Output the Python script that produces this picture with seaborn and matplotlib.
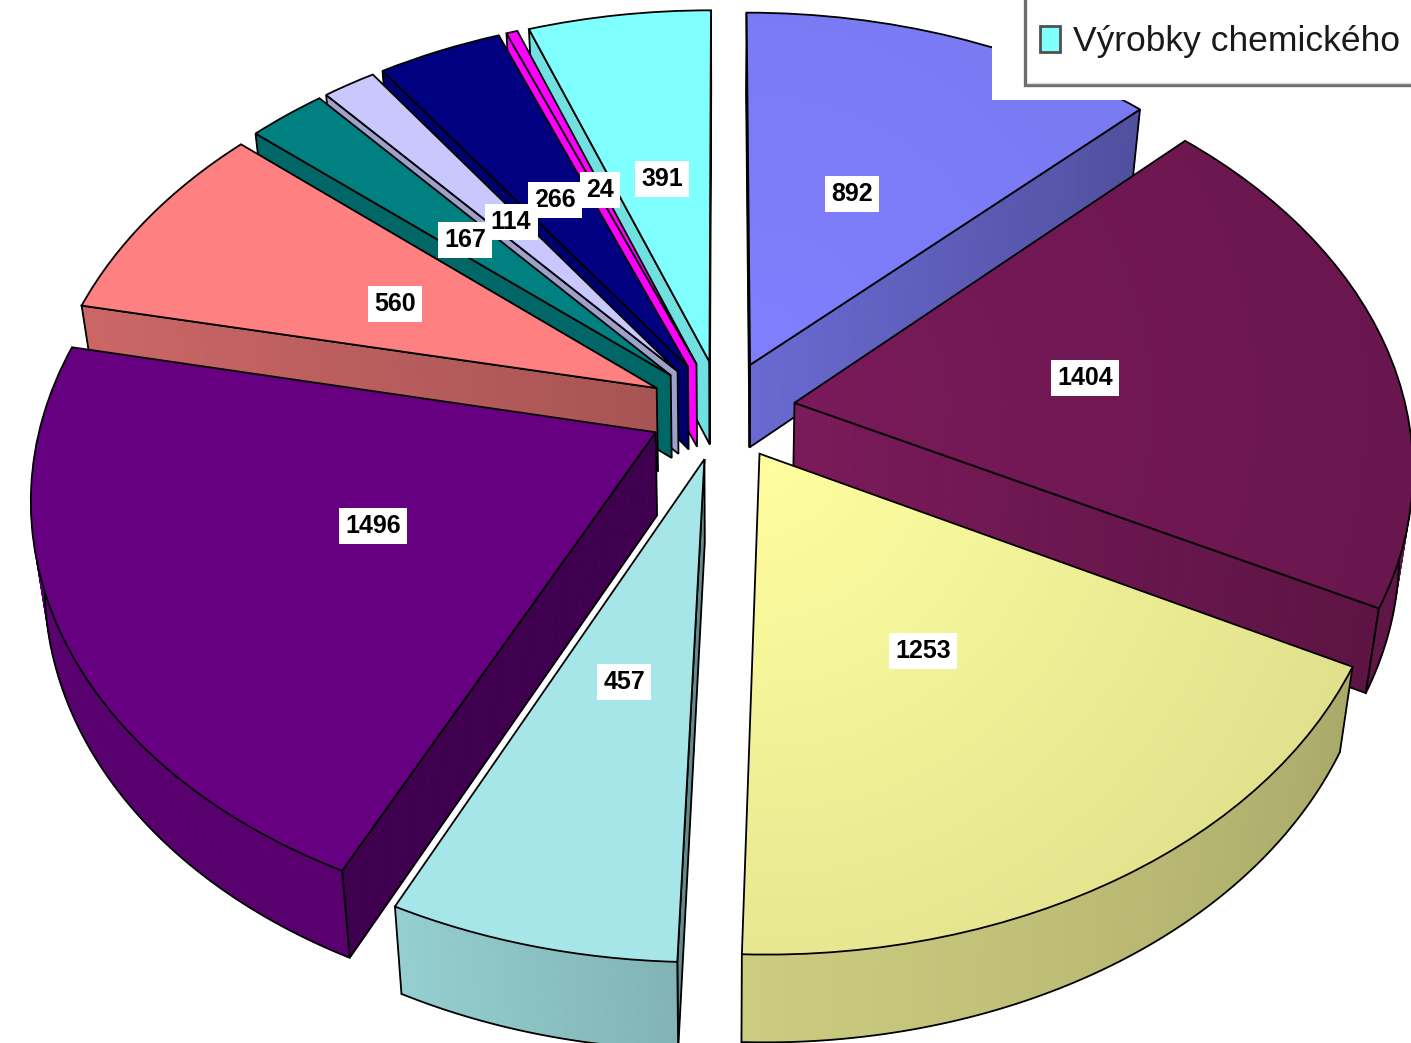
import numpy as np
import seaborn as sns
import matplotlib
matplotlib.use('Agg')
import matplotlib.pyplot as plt
import matplotlib.patches as mpatches
import matplotlib.transforms as mtransforms

# Values, clockwise from twelve o'clock
values = [892, 1404, 1253, 457, 1496, 560, 167, 114, 266, 24, 391]
value_labels = ['892', '1404', '1253', '457', '1496', '560', '167', '114', '266', '24', '391']
legend_label = 'Výrobky chemického'
colors = ['#8080ff', '#7a1a5a', '#ffffa0', '#a6e6e8', '#660080', '#ff8080',
          '#008080', '#c8c8ff', '#000080', '#ff00ff', '#80ffff']
legend_color = '#80ffff'

# Styling per slice
top_fade = [0.08, 0.15, 0.13, 0, 0, 0, 0, 0, 0, 0, 0]
cut_shade = [(0.82, 0.62), (1.0, 0.75), (0.7, 0.7), (0.6, 0.6), (0.62, 0.62), (0.66, 0.8),
             (0.8, 0.8), (0.8, 0.8), (0.85, 0.85), (1.0, 1.0), (0.88, 0.88)]
rim_shade = [(0.7, 0.7), (0.78, 0.78), (0.8, 0.66), (0.9, 0.78), (0.87, 0.87), (0.8, 0.8),
             (0.8, 0.8), (0.8, 0.8), (0.8, 0.8), (0.8, 0.8), (0.85, 0.85)]
label_xy = [(852, 194), (1085, 378), (923, 651), (624, 682), (373, 526), (395, 304),
            (465, 240), (511, 222), (555, 200), (600, 190), (662, 179)]

# Perspective of the tilted pie, in pixels
CX, CY, RX, RY = 722, 410, 612, 415
TILT = 0.144
DEPTH = 83
EXPLODE = 0.12

sns.set_theme(style='white')
palette = sns.color_palette(colors)


def project(x, y, z=0.0):
    w = 1 / (1 + TILT * np.asarray(y))
    shrink = 1 - 0.02 * z
    return (CX + RX * np.asarray(x) * w * shrink,
            CY - RY * np.asarray(y) * w * shrink + DEPTH * z * w)


class Tilt(mtransforms.Transform):
    input_dims = 2
    output_dims = 2

    def transform_non_affine(self, values):
        px, py = project(values[:, 0], values[:, 1])
        return np.column_stack([px, py])


def shaded(color, f):
    return tuple(np.clip(np.array(color) * f, 0, 1))


def band(xs, ys):
    # Polygon between the top and the bottom of a run of points
    tx, ty = project(xs, ys, 0)
    bx, by = project(xs, ys, 1)
    return np.r_[tx, bx[::-1]], np.r_[ty, by[::-1]]


def faces_viewer(ox, oy, ex, ey, mx, my):
    # A cut face shows when the rest of the slice lies above it on screen
    ax_, ay_ = project(ox, oy)
    bx_, by_ = project(ex, ey)
    cx_, cy_ = project(mx, my)
    if abs(bx_ - ax_) < 1e-6:
        return False
    line_y = ay_ + (by_ - ay_) * (cx_ - ax_) / (bx_ - ax_)
    return cy_ < line_y


fig, ax = plt.subplots(figsize=(14.11, 10.43), dpi=100)
fig.subplots_adjust(0, 0, 1, 1)

wedges, _ = ax.pie(values, explode=[EXPLODE] * len(values), colors=palette, startangle=90,
                   counterclock=False, radius=1,
                   wedgeprops={'edgecolor': 'black', 'linewidth': 1.3})
ax.set_aspect('auto')
ax.set_xlim(0, 1411)
ax.set_ylim(1043, 0)
ax.autoscale(False)

grid_x, grid_y = np.meshgrid(np.arange(0, 1411, 3), np.arange(0, 1043, 3))
order = np.argsort([-w.center[1] for w in wedges])

for rank, i in enumerate(order):
    w = wedges[i]
    z = 10 + rank * 10
    ox, oy = w.center
    t = np.radians(np.linspace(w.theta1, w.theta2, 80))
    rx, ry = ox + np.cos(t), oy + np.sin(t)
    mx, my = rx[len(t) // 2], ry[len(t) // 2]

    # cut faces, only the ones turned to the viewer
    for k in [0, -1]:
        if not faces_viewer(ox, oy, rx[k], ry[k], mx, my):
            continue
        n = 30
        shade = np.linspace(cut_shade[i][0], cut_shade[i][1], n)
        xs = np.linspace(ox, rx[k], n)
        ys = np.linspace(oy, ry[k], n)
        for s in range(n - 1):
            c = shaded(palette[i], shade[s])
            px, py = band(xs[s:s + 2], ys[s:s + 2])
            ax.fill(px, py, fc=c, ec=c, lw=0.6, zorder=z)
        px, py = band(np.array([ox, rx[k]]), np.array([oy, ry[k]]))
        ax.fill(px, py, fc='none', ec='black', lw=1.3, zorder=z + 1)

    # outer rim, front half only
    rim = np.linspace(rim_shade[i][0], rim_shade[i][1], len(t))
    front = np.sin(t) < 0
    if front.sum() > 1:
        for j in np.flatnonzero(front[:-1] & front[1:]):
            c = shaded(palette[i], rim[j])
            px, py = band(rx[j:j + 2], ry[j:j + 2])
            ax.fill(px, py, fc=c, ec=c, lw=0.6, zorder=z + 2)
        bx, by = project(rx[front], ry[front], 1)
        ax.plot(bx, by, color='black', lw=1.3, zorder=z + 3)
        # corner strokes where the rim ends at a cut, not at the silhouette
        for k in [0, -1]:
            if front[k]:
                px, py = band(rx[[k]], ry[[k]])
                ax.plot(px, py, color='black', lw=1.3, zorder=z + 3)

    # top face is the pie wedge itself, seen through the tilt
    w.set_transform(Tilt() + ax.transData)
    w.set_zorder(z + 6)
    if top_fade[i] > 0:
        ax_, ay_ = project(ox, oy)
        d = np.hypot(grid_x - ax_, grid_y - ay_) / 700
        fade = 1 - top_fade[i] * d
        img = np.clip(np.dstack([palette[i][c] * fade for c in range(3)]), 0, 1)
        im = ax.imshow(img, extent=(0, 1411, 1043, 0), aspect='auto', zorder=z + 5)
        im.set_clip_path(w)
        w.set_facecolor('none')

# Value labels, earlier ones lie on top
for n, (txt, (lx, ly)) in enumerate(zip(value_labels, label_xy)):
    ax.text(lx, ly, txt, ha='center', va='center', fontsize=18, fontweight='bold',
            family='Liberation Sans', color='black', zorder=250 - n,
            bbox=dict(boxstyle='square,pad=0.25', fc='white', ec='none'))

# Legend, cut off by the edge of the picture
ax.add_patch(mpatches.Rectangle((992, 0), 419, 100, fc='white', ec='none', zorder=300))
ax.plot([1025, 1025, 1411], [0, 85, 85], color='#6e6e6e', lw=2.4, zorder=301, solid_joinstyle='miter')
ax.plot([1027, 1411], [82.5, 82.5], color='#d8d8d8', lw=1, zorder=301)
ax.add_patch(mpatches.Rectangle((1040, 26), 20, 26, fc=legend_color, ec='#505050', lw=2, zorder=302))
ax.text(1073, 41, legend_label, ha='left', va='center', fontsize=25.5, family='Liberation Sans',
        color='#1a1a1a', zorder=302)

fig.savefig('out.png', dpi=100)
